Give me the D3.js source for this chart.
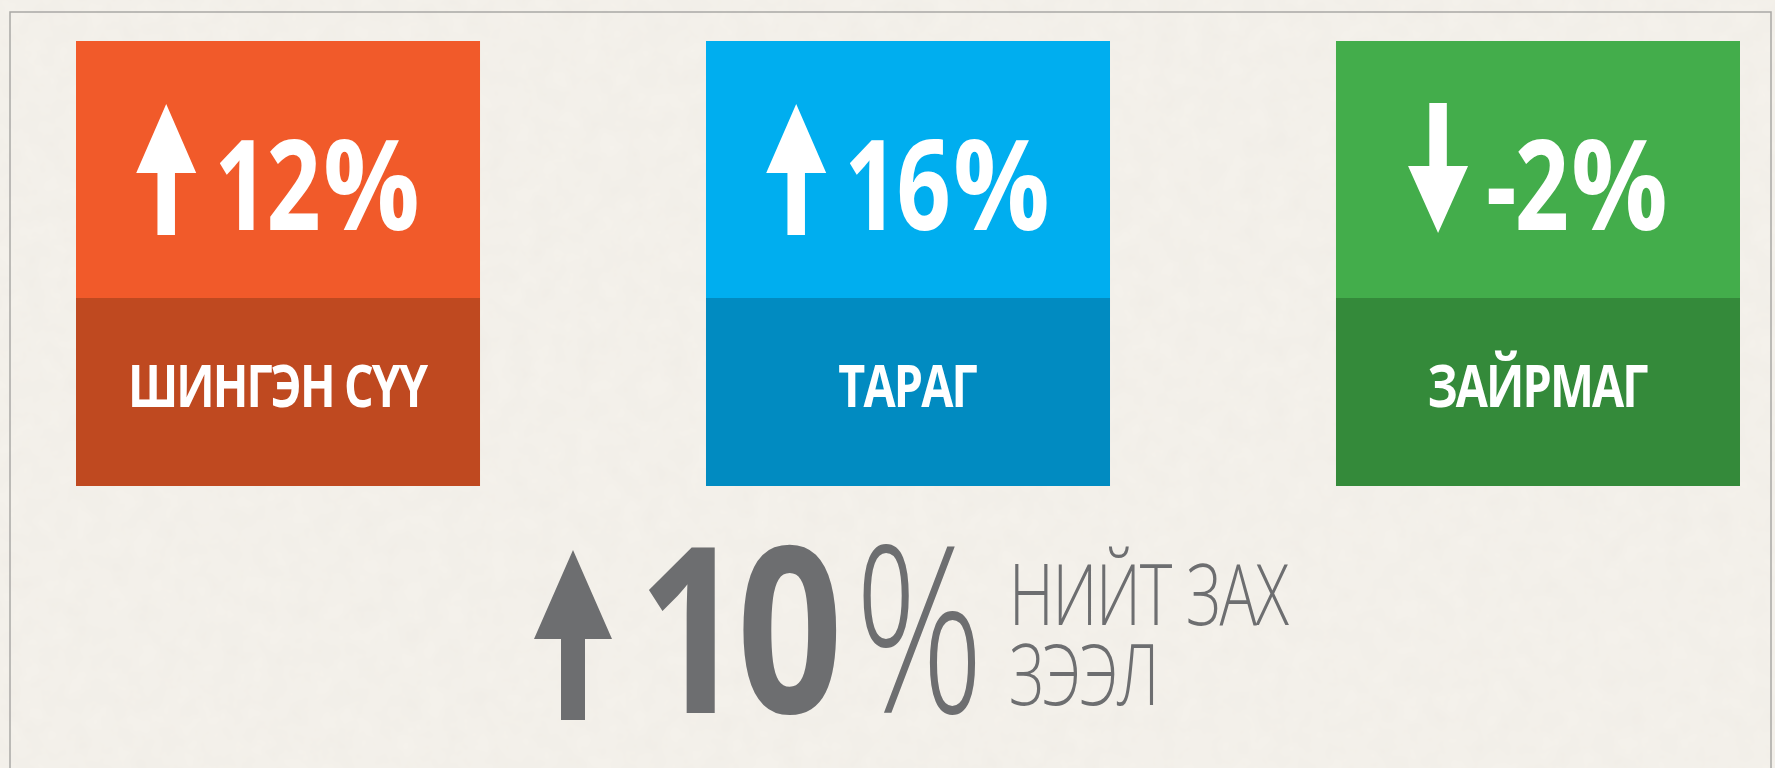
<!DOCTYPE html>
<html>
<head>
<meta charset="utf-8">
<script src="https://cdn.jsdelivr.net/npm/d3@7/dist/d3.min.js"></script>
<style>
  body { margin: 0; background: #f4f1eb; overflow: hidden; }
  text { font-family: "Open Sans", "Noto Sans", sans-serif; }
</style>
</head>
<body>
<svg id="chart"></svg>
<script>
// values
const categories = ["ШИНГЭН СҮҮ", "ТАРАГ", "ЗАЙРМАГ"];
const changes = [12, 16, -2];
const topColors = ["#f15a2a", "#00aeef", "#43ad4b"];
const bottomColors = ["#bf4920", "#018bc1", "#348a3a"];
const totalChange = 10;
const totalLabel = ["НИЙТ ЗАХ", "ЗЭЭЛ"];

const W = 1775, H = 768;
const svg = d3.select("#chart").attr("width", W).attr("height", H);

// paper texture
const defs = svg.append("defs");
const f = defs.append("filter").attr("id", "paper").attr("x", 0).attr("y", 0).attr("width", "100%").attr("height", "100%");
f.append("feTurbulence").attr("type", "fractalNoise").attr("baseFrequency", 0.045).attr("numOctaves", 3).attr("seed", 4);
f.append("feColorMatrix").attr("values", "0 0 0 0 0.55  0 0 0 0 0.52  0 0 0 0 0.47  0 0 0 0.09 0");
svg.append("rect").attr("width", W).attr("height", H).attr("fill", "#f5f2ec");
svg.append("rect").attr("width", W).attr("height", H).attr("filter", "url(#paper)");

// frame
svg.append("rect").attr("x", 10).attr("y", 12).attr("width", 1761).attr("height", 800)
  .attr("fill", "none").attr("stroke", "#a9a8a5").attr("stroke-width", 1.5);

// no condensed face installed, so squeeze Open Sans sideways and tighten it
function condText(parent, str, size, weight, fill, sx, track) {
  const g = parent.append("g");
  const t = g.append("text").attr("fill", fill)
    .style("font-size", size + "px").style("font-weight", weight)
    .style("letter-spacing", (track || 0) * size + "px").text(str);
  const w = (t.node().getComputedTextLength() - (track || 0) * size) * sx;
  return {
    w,
    at(x0, y0) { g.attr("transform", `translate(${x0},${y0}) scale(${sx},1)`); return this; }
  };
}

function arrowPath(cx, yTop, yBot, headW, headH, shaftW, up) {
  const p = d3.path();
  if (up) {
    p.moveTo(cx, yTop);
    p.lineTo(cx + headW / 2, yTop + headH);
    p.lineTo(cx + shaftW / 2, yTop + headH);
    p.lineTo(cx + shaftW / 2, yBot);
    p.lineTo(cx - shaftW / 2, yBot);
    p.lineTo(cx - shaftW / 2, yTop + headH);
    p.lineTo(cx - headW / 2, yTop + headH);
  } else {
    p.moveTo(cx, yBot);
    p.lineTo(cx + headW / 2, yBot - headH);
    p.lineTo(cx + shaftW / 2, yBot - headH);
    p.lineTo(cx + shaftW / 2, yTop);
    p.lineTo(cx - shaftW / 2, yTop);
    p.lineTo(cx - shaftW / 2, yBot - headH);
    p.lineTo(cx - headW / 2, yBot - headH);
  }
  p.closePath();
  return p.toString();
}

const x = d3.scaleBand().domain(categories).range([76, 1740]).paddingInner(0.3587);
const boxTop = 41, boxSplit = 298, boxBot = 486;

const cards = svg.selectAll("g.card")
  .data(categories.map((c, i) => ({ name: c, value: changes[i], top: topColors[i], bot: bottomColors[i] })))
  .join("g").attr("class", "card")
  .attr("transform", d => `translate(${x(d.name)},0)`);

cards.append("rect").attr("width", x.bandwidth()).attr("y", boxTop).attr("height", boxSplit - boxTop).attr("fill", d => d.top);
cards.append("rect").attr("width", x.bandwidth()).attr("y", boxSplit).attr("height", boxBot - boxSplit).attr("fill", d => d.bot);

cards.each(function (d) {
  const g = d3.select(this);
  const bw = x.bandwidth();
  const num = condText(g, String(d.value), 125, 700, "#fff", 0.76, -0.02);
  const pc = condText(g, "%", 125, 700, "#fff", 0.86, 0);
  const headW = 60, gap = 18, pcGap = 2;
  const left = (bw - (headW + gap + num.w + pcGap + pc.w)) / 2;
  num.at(left + headW + gap, 230);
  pc.at(left + headW + gap + num.w + pcGap, 230);
  g.append("path")
    .attr("d", d.value >= 0
      ? arrowPath(left + headW / 2, 104, 235, headW, 69, 17.5, true)
      : arrowPath(left + headW / 2, 103, 233, headW, 67, 17.5, false))
    .attr("fill", "#fff");

  const lab = condText(g, d.name, 59, 700, "#fff", 0.79, -0.04);
  lab.at((bw - lab.w) / 2, 407);
});

// total
const grey = "#6d6e70";
const tot = svg.append("g");
tot.append("path").attr("d", arrowPath(573, 550, 720, 78, 89, 24, totalChange >= 0)).attr("fill", grey);
const big = condText(tot, String(totalChange), 232, 700, grey, 0.8, -0.04).at(638, 713);
const pct = condText(tot, "%", 232, 300, grey, 0.69, 0).at(638 + big.w + 12, 713);
totalLabel.forEach((t, i) => {
  condText(tot, t, 84, 300, grey, 0.74, -0.02).at(638 + big.w + 12 + pct.w + 25, 625 + i * 80);
});
</script>
</body>
</html>
